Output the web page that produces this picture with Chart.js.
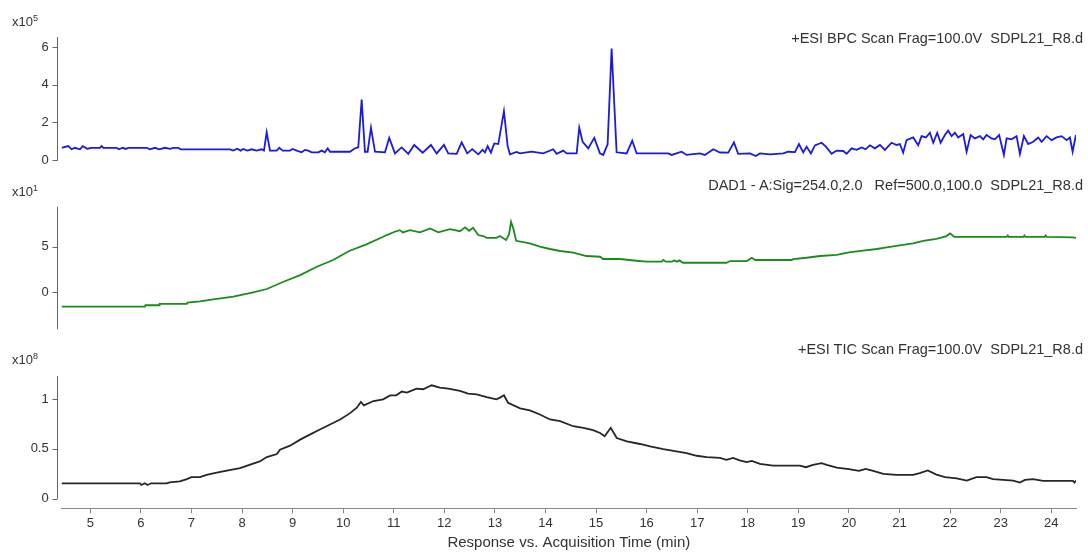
<!DOCTYPE html>
<html>
<head>
<meta charset="utf-8">
<script src="https://cdn.jsdelivr.net/npm/chart.js@4.4.1/dist/chart.umd.min.js"></script>
<style>
  body { margin: 0; background: #fff; font-family: "Liberation Sans", Arial, sans-serif; }
  #wrap { position: relative; width: 1088px; height: 552px; }
  canvas { position: absolute; left: 0; }
  .lbl { position: absolute; font-size: 13px; line-height: 15px; color: #333; white-space: pre; }
  .exp { left: 12px; }
  .exp sup { font-size: 9px; line-height: 0; vertical-align: 5px; }
  .ttl { right: 5px; font-size: 14.5px; }
</style>
</head>
<body>
<div id="wrap">
  <canvas id="bpc" width="1088" height="170" style="top:0"></canvas>
  <canvas id="dad" width="1088" height="170" style="top:170px"></canvas>
  <canvas id="tic" width="1088" height="212" style="top:340px"></canvas>
  <div class="lbl exp" style="top:14px">x10<sup>5</sup></div>
  <div class="lbl exp" style="top:184px">x10<sup>1</sup></div>
  <div class="lbl exp" style="top:352px">x10<sup>8</sup></div>
  <div class="lbl ttl" style="top:31px">+ESI BPC Scan Frag=100.0V  SDPL21_R8.d</div>
  <div class="lbl ttl" style="top:178px">DAD1 - A:Sig=254.0,2.0   Ref=500.0,100.0  SDPL21_R8.d</div>
  <div class="lbl ttl" style="top:342px">+ESI TIC Scan Frag=100.0V  SDPL21_R8.d</div>
</div>
<script>
// tick labels
const timeTicks = [5, 6, 7, 8, 9, 10, 11, 12, 13, 14, 15, 16, 17, 18, 19, 20, 21, 22, 23, 24];
const bpcTicks = [0, 2, 4, 6];
const dadTicks = [0, 5];
const ticTicks = [0, 0.5, 1];

// +ESI BPC (x10^5)
const bpcTime = [4.43, 4.565, 4.632, 4.697, 4.796, 4.85, 4.941, 5.028, 5.19, 5.225, 5.257, 5.522, 5.567, 5.641, 5.706, 5.751,
  6.115, 6.18, 6.279, 6.364, 6.477, 6.576, 6.641, 6.74, 6.787, 7.762, 7.827, 7.906, 7.974, 8.025, 8.104, 8.191,
  8.29, 8.389, 8.434, 8.488, 8.553, 8.685, 8.737, 8.804, 8.948, 9.002, 9.081, 9.18, 9.245, 9.31, 9.377, 9.508,
  9.575, 9.64, 9.694, 9.739, 10.134, 10.233, 10.299, 10.366, 10.431, 10.484, 10.55, 10.629, 10.827, 10.911, 11.024, 11.157,
  11.287, 11.406, 11.572, 11.736, 11.849, 11.993, 12.078, 12.244, 12.343, 12.454, 12.552, 12.671, 12.758, 12.804, 12.857, 12.922,
  12.987, 13.067, 13.179, 13.252, 13.298, 13.43, 13.496, 13.727, 13.956, 14.154, 14.221, 14.352, 14.419, 14.617, 14.668, 14.735,
  14.846, 14.965, 15.077, 15.142, 15.229, 15.308, 15.407, 15.605, 15.716, 15.803, 16.427, 16.495, 16.692, 16.791, 17.054, 17.153,
  17.317, 17.45, 17.614, 17.727, 17.811, 18.043, 18.161, 18.24, 18.438, 18.701, 18.8, 18.933, 19.012, 19.097, 19.164, 19.249,
  19.328, 19.46, 19.545, 19.658, 19.757, 19.887, 19.955, 20.053, 20.152, 20.251, 20.33, 20.415, 20.514, 20.613, 20.712, 20.844,
  20.943, 21.008, 21.073, 21.14, 21.271, 21.37, 21.437, 21.522, 21.601, 21.667, 21.746, 21.813, 21.898, 21.963, 22.03, 22.096,
  22.161, 22.26, 22.327, 22.406, 22.491, 22.59, 22.655, 22.722, 22.821, 22.886, 22.971, 23.064, 23.118, 23.216, 23.315, 23.381,
  23.46, 23.545, 23.644, 23.743, 23.81, 23.909, 24.008, 24.107, 24.206, 24.305, 24.37, 24.423, 24.488];
const bpcValue = [0.65, 0.74, 0.57, 0.65, 0.57, 0.74, 0.6, 0.65, 0.65, 0.74, 0.65, 0.65, 0.57, 0.65, 0.59, 0.65,
  0.65, 0.57, 0.65, 0.57, 0.65, 0.59, 0.65, 0.65, 0.57, 0.57, 0.5, 0.6, 0.5, 0.59, 0.5, 0.57,
  0.5, 0.57, 0.5, 1.47, 0.5, 0.5, 0.65, 0.5, 0.5, 0.59, 0.5, 0.41, 0.54, 0.5, 0.41, 0.41,
  0.5, 0.41, 0.62, 0.44, 0.44, 0.62, 0.67, 3.22, 0.44, 0.44, 1.72, 0.44, 0.41, 1.18, 0.35, 0.67,
  0.33, 0.8, 0.39, 0.8, 0.35, 0.8, 0.35, 0.33, 0.94, 0.35, 0.58, 0.3, 0.54, 0.41, 0.74, 0.39,
  0.88, 0.85, 2.6, 0.75, 0.3, 0.43, 0.35, 0.44, 0.35, 0.57, 0.33, 0.5, 0.35, 0.35, 1.72, 0.97,
  0.62, 1.18, 0.35, 0.27, 0.83, 5.93, 0.41, 0.35, 1.03, 0.35, 0.35, 0.27, 0.44, 0.27, 0.35, 0.27,
  0.57, 0.4, 0.39, 0.94, 0.33, 0.35, 0.21, 0.35, 0.3, 0.35, 0.44, 0.42, 0.85, 0.4, 0.71, 0.35,
  0.78, 0.92, 0.71, 0.33, 0.5, 0.48, 0.33, 0.62, 0.54, 0.67, 0.57, 0.78, 0.62, 0.8, 0.54, 0.92,
  0.8, 0.85, 0.39, 1.06, 1.2, 0.78, 1.27, 1.2, 1.45, 0.92, 1.45, 0.92, 1.33, 1.56, 1.27, 1.45,
  1.2, 1.38, 0.44, 1.33, 1.15, 1.27, 1.1, 1.33, 1.15, 1.1, 1.33, 0.27, 1.15, 1.1, 1.27, 0.32,
  1.27, 0.85, 0.97, 1.2, 0.97, 1.27, 1.06, 1.2, 1.27, 1.06, 1.2, 0.44, 1.33];

// DAD1 254 nm (x10^1)
const dadTime = [4.43, 6.08, 6.09, 6.36, 6.37, 6.91, 6.92, 7.17, 7.43, 7.83, 8.22, 8.49, 8.82, 9.15, 9.48, 9.8,
  10.13, 10.46, 10.79, 10.86, 11.02, 11.12, 11.18, 11.32, 11.52, 11.72, 11.88, 12.11, 12.31, 12.41, 12.49, 12.57,
  12.67, 12.77, 12.84, 13.03, 13.1, 13.22, 13.28, 13.32, 13.37, 13.42, 13.56, 13.69, 13.89, 14.09, 14.29, 14.55,
  14.81, 15.08, 15.14, 15.47, 15.8, 16.0, 16.3, 16.33, 16.38, 16.5, 16.55, 16.6, 16.65, 16.72, 17.58, 17.65,
  17.98, 18.08, 18.15, 18.87, 18.9, 19.16, 19.43, 19.76, 20.0, 20.28, 20.55, 20.75, 20.94, 21.27, 21.47, 21.73,
  21.93, 22.0, 22.08, 23.12, 23.14, 23.16, 23.45, 23.47, 23.49, 23.87, 23.89, 23.91, 24.43, 24.49];
const dadValue = [-1.58, -1.58, -1.42, -1.42, -1.28, -1.28, -1.14, -1.0, -0.77, -0.48, 0, 0.36, 1.16, 1.89, 2.8, 3.54,
  4.56, 5.25, 6.09, 6.28, 6.64, 6.82, 6.57, 6.82, 6.57, 7.0, 6.57, 6.93, 6.7, 7.12, 6.75, 7.08,
  6.28, 6.17, 5.98, 5.98, 6.17, 5.73, 6.35, 7.73, 6.88, 5.65, 5.5, 5.37, 5.0, 4.75, 4.53, 4.35,
  3.98, 3.9, 3.65, 3.65, 3.46, 3.36, 3.36, 3.55, 3.36, 3.36, 3.5, 3.36, 3.5, 3.24, 3.24, 3.43,
  3.43, 3.79, 3.54, 3.54, 3.65, 3.79, 3.98, 4.1, 4.38, 4.56, 4.75, 4.93, 5.1, 5.37, 5.65, 5.87,
  6.17, 6.46, 6.09, 6.09, 6.24, 6.09, 6.09, 6.24, 6.09, 6.09, 6.24, 6.09, 6.02, 5.98];

// +ESI TIC (x10^8)
const ticTime = [4.43, 5.98, 6.01, 6.08, 6.13, 6.2, 6.51, 6.57, 6.77, 6.91, 7.0, 7.17, 7.3, 7.5, 7.7, 7.96,
  8.09, 8.35, 8.49, 8.69, 8.75, 8.95, 9.15, 9.34, 9.54, 9.74, 9.94, 10.13, 10.27, 10.35, 10.41, 10.6,
  10.79, 10.93, 11.05, 11.16, 11.26, 11.45, 11.58, 11.75, 11.91, 12.08, 12.31, 12.47, 12.64, 12.84, 13.03, 13.1,
  13.18, 13.26, 13.5, 13.69, 13.89, 14.09, 14.29, 14.55, 14.75, 14.94, 15.08, 15.17, 15.29, 15.41, 15.61, 15.87,
  16.07, 16.33, 16.59, 16.79, 16.99, 17.19, 17.45, 17.58, 17.71, 17.84, 17.98, 18.08, 18.24, 18.5, 19.03, 19.15,
  19.29, 19.46, 19.56, 19.76, 20.0, 20.2, 20.33, 20.48, 20.68, 20.94, 21.27, 21.4, 21.56, 21.73, 21.9, 22.13,
  22.33, 22.52, 22.72, 22.85, 23.05, 23.25, 23.38, 23.48, 23.64, 23.84, 24.17, 24.43, 24.46, 24.49];
const ticValue = [0.155, 0.155, 0.138, 0.155, 0.138, 0.155, 0.155, 0.165, 0.175, 0.196, 0.216, 0.216, 0.24, 0.263, 0.283, 0.307,
  0.33, 0.374, 0.418, 0.448, 0.492, 0.532, 0.593, 0.643, 0.694, 0.744, 0.795, 0.856, 0.913, 0.97, 0.936, 0.98,
  0.997, 1.037, 1.037, 1.075, 1.064, 1.105, 1.098, 1.138, 1.115, 1.105, 1.081, 1.054, 1.047, 1.02, 0.997, 1.014,
  1.037, 0.963, 0.906, 0.886, 0.845, 0.795, 0.778, 0.727, 0.71, 0.687, 0.66, 0.626, 0.711, 0.609, 0.576, 0.549,
  0.525, 0.498, 0.475, 0.458, 0.431, 0.418, 0.41, 0.39, 0.41, 0.384, 0.367, 0.38, 0.35, 0.333, 0.333, 0.316,
  0.34, 0.357, 0.34, 0.313, 0.296, 0.28, 0.3, 0.28, 0.249, 0.239, 0.239, 0.256, 0.283, 0.242, 0.216, 0.205,
  0.182, 0.216, 0.216, 0.196, 0.189, 0.182, 0.162, 0.189, 0.196, 0.179, 0.179, 0.179, 0.162, 0.182];

const FONT = { family: '"Liberation Sans", Arial, sans-serif', size: 13 };

// y axis sits a few px left of the plot, draw it by hand
const yAxisLine = {
  id: 'yAxisLine',
  afterDraw(chart, args, opts) {
    const ctx = chart.ctx, a = chart.chartArea, ys = chart.scales.y;
    const x = Math.round(a.left - 4.4) + 0.5;
    const bottom = opts.bottomValue == null ? a.bottom : ys.getPixelForValue(opts.bottomValue);
    ctx.save();
    ctx.strokeStyle = '#666';
    ctx.lineWidth = 1;
    ctx.beginPath();
    ctx.moveTo(x, a.top);
    ctx.lineTo(x, bottom);
    ys.ticks.forEach(t => {
      const py = Math.round(ys.getPixelForValue(t.value)) + 0.5;
      ctx.moveTo(x - 5, py);
      ctx.lineTo(x, py);
    });
    ctx.stroke();
    ctx.restore();
  }
};

function makeChart(id, times, values, color, ticks, yMin, yMax, pad, showX, bottomValue) {
  const xScale = {
    type: 'linear', min: 4.435, max: 24.49, display: showX,
    afterBuildTicks: s => { s.ticks = timeTicks.map(v => ({ value: v })); },
    border: { display: true, color: '#888' },
    grid: { drawOnChartArea: false, drawTicks: true, tickLength: 5, color: '#888' },
    ticks: { padding: 2, color: '#333', font: FONT, maxRotation: 0, autoSkip: false },
    title: { display: true, text: 'Response vs. Acquisition Time (min)', color: '#333',
      font: { family: FONT.family, size: 15 }, padding: { top: 0, bottom: 0 } }
  };
  if (showX) xScale.afterFit = s => { s.height = 43.7; };

  return new Chart(document.getElementById(id), {
    type: 'line',
    data: {
      datasets: [{
        data: times.map((t, i) => ({ x: t, y: values[i] })),
        borderColor: color,
        borderWidth: 1.8,
        pointRadius: 0,
        tension: 0,
        fill: false
      }]
    },
    options: {
      responsive: false,
      animation: false,
      devicePixelRatio: 1,
      layout: { padding: pad },
      plugins: { legend: { display: false }, tooltip: { enabled: false }, yAxisLine: { bottomValue } },
      scales: {
        x: xScale,
        y: {
          min: yMin, max: yMax,
          afterBuildTicks: s => { s.ticks = ticks.map(v => ({ value: v })); },
          afterFit: s => { s.width = 61.7; s.paddingTop = 0; s.paddingBottom = 0; },
          grid: { display: false, drawTicks: false },
          border: { display: false },
          ticks: { padding: 13, color: '#333', font: FONT, callback: v => String(v) }
        }
      }
    },
    plugins: [yAxisLine]
  });
}

makeChart('bpc', bpcTime, bpcValue, '#1a1ae0', bpcTicks, -0.027, 6.55, { left: 0, right: 12, top: 37, bottom: 9.5 }, false, null);
makeChart('dad', dadTime, dadValue, '#1a8c1a', dadTicks, -4.06, 9.39, { left: 0, right: 12, top: 36.7, bottom: 10.7 }, false, null);
makeChart('tic', ticTime, ticValue, '#262626', ticTicks, -0.096, 1.231, { left: 0, right: 12, top: 36, bottom: 0 }, true, 0);
</script>
</body>
</html>
